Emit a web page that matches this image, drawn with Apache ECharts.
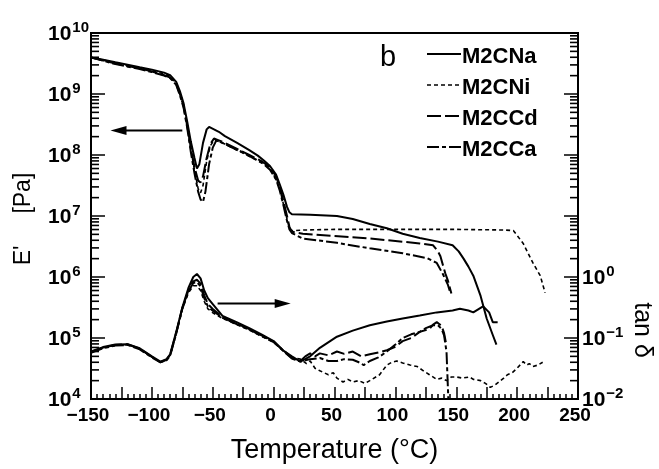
<!DOCTYPE html>
<html><head><meta charset="utf-8">
<script src="https://cdn.jsdelivr.net/npm/echarts@6/dist/echarts.min.js"></script>
<style>html,body{margin:0;padding:0;background:#fff}#c{width:659px;height:469px}</style>
</head><body><div id="c"></div>
<script>
const seriesNames = ['M2CNa', 'M2CNi', 'M2CCd', 'M2CCa'];
const minorMultipliers = [2, 3, 4, 5, 6, 7, 8, 9];
const leftDecades = [1e4, 1e5, 1e6, 1e7, 1e8, 1e9];
const rightDecades = [1e-2, 1e-1, 1e0, 1e1, 1e2, 1e3];

// E' [Pa]  : [temperature °C, modulus]
const eM2CNa = [[-150,3.98e9],[-140,3.63e9],[-130,3.31e9],[-120,3.02e9],[-110,2.75e9],[-100,2.51e9],[-90,2.24e9],[-85,2.04e9],[-80,1.58e9],[-77,1.12e9],[-74,7.08e8],[-71,3.55e8],[-68,1.66e8],[-65,8.91e7],[-63,6.03e7],[-61,7.08e7],[-58,1.58e8],[-55,2.63e8],[-53,2.88e8],[-45,2.40e8],[-40,2.04e8],[-30,1.58e8],[-20,1.20e8],[-13,9.77e7],[-8,8.13e7],[-3,6.61e7],[2,4.79e7],[5,3.31e7],[8,2.24e7],[11,1.41e7],[13,1.15e7],[15,1.07e7],[30,1.05e7],[52,1.00e7],[65,8.91e6],[79,7.41e6],[93,6.31e6],[106,5.13e6],[120,4.37e6],[135,3.80e6],[147,3.31e6],[152,2.63e6],[156,2.00e6],[160,1.48e6],[164,1.05e6],[170,4.90e5],[175,2.09e5],[180,1.12e5],[183,7.76e4]];
const eM2CNi = [[-150,3.98e9],[-120,2.95e9],[-100,2.40e9],[-90,2.14e9],[-85,1.95e9],[-80,1.51e9],[-77,1.07e9],[-74,6.76e8],[-71,3.16e8],[-68,1.26e8],[-65,5.62e7],[-62,2.82e7],[-60,2.40e7],[-58,3.16e7],[-55,7.94e7],[-52,1.41e8],[-49,1.74e8],[-45,1.66e8],[-40,1.51e8],[-30,1.20e8],[-20,9.55e7],[-10,7.59e7],[-3,6.03e7],[2,3.98e7],[5,2.82e7],[8,1.58e7],[11,8.91e6],[13,6.31e6],[15,5.75e6],[25,5.89e6],[50,6.03e6],[100,6.03e6],[150,6.03e6],[190,5.89e6],[197,5.75e6],[205,3.55e6],[213,1.70e6],[219,1.05e6],[223,5.50e5]];
const eM2CCd = [[-150,3.98e9],[-130,3.16e9],[-110,2.63e9],[-100,2.34e9],[-90,2.04e9],[-85,1.86e9],[-80,1.45e9],[-77,1.00e9],[-74,6.31e8],[-71,3.02e8],[-68,1.32e8],[-65,6.31e7],[-62,3.80e7],[-60,3.55e7],[-58,4.47e7],[-55,8.91e7],[-52,1.51e8],[-49,1.86e8],[-45,1.74e8],[-40,1.58e8],[-30,1.26e8],[-20,1.00e8],[-10,7.94e7],[-3,6.31e7],[2,4.47e7],[5,3.02e7],[8,1.78e7],[11,1.00e7],[13,6.61e6],[15,5.50e6],[24,5.13e6],[50,4.68e6],[79,4.27e6],[100,3.89e6],[120,3.55e6],[131,3.31e6],[135,2.63e6],[137,2.19e6],[139,1.58e6],[141,1.15e6],[143,8.91e5],[146,5.37e5]];
const eM2CCa = [[-150,3.98e9],[-130,3.09e9],[-110,2.57e9],[-100,2.29e9],[-90,2.00e9],[-85,1.82e9],[-80,1.41e9],[-77,9.55e8],[-74,6.03e8],[-71,2.82e8],[-68,1.12e8],[-65,5.01e7],[-62,2.51e7],[-60,1.86e7],[-58,1.70e7],[-56,2.51e7],[-53,7.08e7],[-50,1.32e8],[-47,1.74e8],[-42,1.58e8],[-35,1.35e8],[-25,1.10e8],[-15,8.51e7],[-8,7.08e7],[-3,5.75e7],[2,3.98e7],[5,2.63e7],[8,1.51e7],[11,8.32e6],[13,6.03e6],[15,5.25e6],[24,4.27e6],[52,3.63e6],[79,2.95e6],[106,2.45e6],[126,2.04e6],[134,1.70e6],[139,1.12e6],[143,7.59e5],[145,5.62e5]];

// tan delta : [temperature °C, tan delta]
const tanM2CNa = [[-150,0.060],[-140,0.071],[-130,0.078],[-120,0.079],[-110,0.068],[-100,0.050],[-93,0.041],[-88,0.045],[-85,0.054],[-80,0.126],[-75,0.316],[-70,0.66],[-66,1.00],[-63,1.12],[-60,0.95],[-57,0.60],[-54,0.45],[-50,0.36],[-42,0.23],[-30,0.18],[-20,0.145],[-10,0.115],[0,0.089],[8,0.062],[15,0.050],[22,0.041],[30,0.050],[38,0.069],[52,0.105],[65,0.132],[79,0.162],[93,0.186],[106,0.209],[120,0.234],[134,0.263],[147,0.282],[153,0.302],[160,0.282],[164,0.263],[172,0.331],[177,0.263],[180,0.182],[184,0.182]];
const tanM2CNi = [[-150,0.058],[-140,0.069],[-130,0.076],[-120,0.078],[-110,0.066],[-100,0.049],[-93,0.040],[-88,0.044],[-85,0.052],[-80,0.120],[-75,0.30],[-70,0.55],[-66,0.72],[-63,0.72],[-60,0.60],[-57,0.40],[-54,0.30],[-50,0.26],[-42,0.21],[-30,0.165],[-20,0.135],[-10,0.107],[0,0.085],[8,0.063],[15,0.048],[22,0.045],[27,0.038],[30,0.042],[34,0.032],[38,0.029],[45,0.025],[49,0.027],[52,0.022],[57,0.019],[61,0.021],[65,0.019],[70,0.020],[75,0.018],[79,0.020],[87,0.025],[93,0.036],[97,0.040],[101,0.042],[106,0.039],[112,0.036],[118,0.034],[123,0.029],[128,0.025],[134,0.021],[138,0.022],[142,0.020],[146,0.023],[150,0.023],[155,0.022],[161,0.023],[164,0.021],[170,0.020],[174,0.018],[178,0.0155],[182,0.017],[185,0.019],[189,0.022],[192,0.025],[196,0.027],[200,0.032],[205,0.041],[208,0.036],[210,0.038],[213,0.034],[217,0.036],[221,0.040]];
const tanM2CCd = [[-150,0.059],[-140,0.070],[-130,0.077],[-120,0.079],[-110,0.067],[-100,0.049],[-93,0.040],[-88,0.044],[-85,0.053],[-80,0.122],[-75,0.31],[-70,0.60],[-66,0.85],[-63,0.90],[-60,0.78],[-57,0.50],[-54,0.36],[-50,0.30],[-42,0.22],[-30,0.17],[-20,0.14],[-10,0.11],[0,0.087],[8,0.062],[15,0.047],[22,0.042],[26,0.050],[30,0.056],[34,0.050],[38,0.056],[45,0.052],[52,0.060],[58,0.055],[65,0.060],[72,0.050],[79,0.054],[86,0.058],[93,0.063],[100,0.072],[106,0.089],[113,0.100],[120,0.126],[125,0.135],[128,0.141],[131,0.166],[134,0.182],[136,0.170],[138,0.158],[140,0.120],[142,0.075]];
const tanM2CCa = [[-150,0.057],[-140,0.068],[-130,0.075],[-120,0.077],[-110,0.065],[-100,0.048],[-93,0.040],[-88,0.043],[-85,0.051],[-80,0.118],[-75,0.30],[-70,0.58],[-66,0.80],[-63,0.82],[-60,0.70],[-57,0.45],[-54,0.33],[-50,0.28],[-42,0.215],[-30,0.168],[-20,0.138],[-10,0.108],[0,0.086],[8,0.061],[15,0.046],[22,0.041],[30,0.045],[38,0.047],[45,0.042],[52,0.042],[58,0.045],[65,0.044],[70,0.040],[74,0.036],[79,0.042],[86,0.048],[93,0.060],[100,0.078],[106,0.100],[113,0.115],[120,0.126],[125,0.145],[131,0.162],[135,0.162],[138,0.140],[140,0.110],[142,0.060],[143.5,0.010]];

// annotation arrows (data coordinates, E' axis): [from, to]
const leftArrow = [[-75, 2.53e8], [-134, 2.53e8]];
const rightArrow = [[-46, 3.67e5], [14, 3.67e5]];

const dashTypes = { 'M2CNa': 'solid', 'M2CNi': [4, 3], 'M2CCd': [14, 4], 'M2CCa': [12, 3, 4, 3] };
const FONT = 'Liberation Sans';

function supLabel(v) {
  const e = Math.round(Math.log10(v));
  return '{b|10}{s|' + (e < 0 ? '\u2212' + Math.abs(e) : e) + '}';
}
const richLabel = {
  b: { fontFamily: FONT, fontSize: 21, fontWeight: 'bold', color: '#000', verticalAlign: 'bottom', lineHeight: 24 },
  s: { fontFamily: FONT, fontSize: 15, fontWeight: 'bold', color: '#000', verticalAlign: 'bottom', lineHeight: 24, padding: [0, 0, 10, 1] }
};

function lineSeries(name, data, yIdx) {
  return {
    name: name, type: 'line', data: data, yAxisIndex: yIdx,
    symbol: 'none', silent: true,
    lineStyle: { color: '#000', width: name === 'M2CNi' ? 1.6 : 2, type: dashTypes[name] },
    itemStyle: { color: '#000' }
  };
}

const chart = echarts.init(document.getElementById('c'), null, { renderer: 'canvas' });
const axisCommon = {
  axisLine: { onZero: false, lineStyle: { color: '#000', width: 2 } },
  axisTick: { inside: true, length: 14, lineStyle: { color: '#000', width: 1.5 } },
  splitLine: { show: false }
};
chart.setOption({
  animation: false,
  backgroundColor: '#fff',
  grid: { left: 91, right: 81, top: 33, bottom: 65, show: true, borderColor: '#000', borderWidth: 2 },
  xAxis: {
    type: 'value', min: -150, max: 250, interval: 25,
    axisLine: { onZero: false, lineStyle: { color: '#000', width: 2 } },
    axisTick: { inside: true, length: 12, lineStyle: { color: '#000', width: 1.5 } },
    minorTick: { show: true, splitNumber: 5, length: 5, lineStyle: { color: '#000', width: 1.5 } },
    splitLine: { show: false },
    axisLabel: {
      margin: 7, color: '#000', fontFamily: FONT, fontSize: 19, fontWeight: 'bold', padding: [0, 6, 0, 0],
      formatter: v => (v % 50 === 0 ? (v < 0 ? '\u2212' + Math.abs(v) : String(v)) : '')
    },
    name: 'Temperature (\u00b0C)', nameLocation: 'middle', nameGap: 38,
    nameTextStyle: { fontFamily: FONT, fontSize: 27, color: '#000' }
  },
  yAxis: [Object.assign({
    type: 'log', logBase: 10, min: 1e4, max: 1e10, interval: 1, splitNumber: 6,
    axisLabel: { align: 'left', margin: 43, formatter: supLabel, rich: richLabel }
  }, axisCommon), Object.assign({
    type: 'log', logBase: 10, min: 1e-2, max: 1e4, interval: 1, splitNumber: 6, position: 'right',
    axisLabel: { align: 'left', margin: 4, formatter: v => (v <= 1.0001 ? supLabel(v) : ''), rich: richLabel }
  }, axisCommon)],
  series: [
    lineSeries('M2CNa', eM2CNa, 0),
    lineSeries('M2CNi', eM2CNi, 0),
    lineSeries('M2CCd', eM2CCd, 0),
    lineSeries('M2CCa', eM2CCa, 0),
    lineSeries('M2CNa', tanM2CNa, 1),
    lineSeries('M2CNi', tanM2CNi, 1),
    lineSeries('M2CCd', tanM2CCd, 1),
    lineSeries('M2CCa', tanM2CCa, 1)
  ]
});

// ---- decorations placed through the chart's own scales ----
const g = [];
function px(yIdx, pt) { return chart.convertToPixel({ xAxisIndex: 0, yAxisIndex: yIdx }, pt); }
leftDecades.forEach(d => minorMultipliers.forEach(m => {
  const p = px(0, [-150, m * d]);
  g.push({ type: 'line', silent: true, shape: { x1: p[0], y1: p[1], x2: p[0] + 8, y2: p[1] }, style: { stroke: '#000', lineWidth: 1.6 } });
}));
rightDecades.forEach(d => minorMultipliers.forEach(m => {
  const p = px(1, [250, m * d]);
  g.push({ type: 'line', silent: true, shape: { x1: p[0] - 8, y1: p[1], x2: p[0], y2: p[1] }, style: { stroke: '#000', lineWidth: 1.6 } });
}));
function arrow(pts) {
  const a = px(0, pts[0]);
  const b = px(0, pts[1]);
  const dir = Math.sign(b[0] - a[0]);
  const headLen = 16, half = 4.5;
  g.push({ type: 'line', silent: true, shape: { x1: a[0], y1: a[1], x2: b[0] - dir * headLen * 0.6, y2: b[1] }, style: { stroke: '#000', lineWidth: 2 } });
  g.push({ type: 'polygon', silent: true, shape: { points: [[b[0], b[1]], [b[0] - dir * headLen, b[1] - half], [b[0] - dir * headLen, b[1] + half]] }, style: { fill: '#000' } });
}
arrow(leftArrow);
arrow(rightArrow);

// legend (drawn as graphic so the dash patterns are exact)
const legendTop = 57, legendStep = 31;
seriesNames.forEach((n, i) => {
  const yc = legendTop + i * legendStep;
  const dash = dashTypes[n] === 'solid' ? null : dashTypes[n];
  g.push({ type: 'line', silent: true, shape: { x1: 427, y1: yc - 3, x2: 461, y2: yc - 3 },
    style: { stroke: '#000', lineWidth: n === 'M2CNi' ? 1.6 : 2, lineDash: dash } });
  g.push({ type: 'text', silent: true, x: 462, y: yc,
    style: { text: n, fontFamily: FONT, fontSize: 22, fontWeight: 'bold', fill: '#000', align: 'left', verticalAlign: 'middle' } });
});
g.push({ type: 'text', silent: true, x: 388, y: 58, style: { text: 'b', fontFamily: FONT, fontSize: 29, fill: '#000', align: 'center', verticalAlign: 'middle' } });
g.push({ type: 'text', silent: true, x: 24, y: 219, rotation: Math.PI / 2,
  style: { text: "E'     [Pa]", fontFamily: FONT, fontSize: 23, fill: '#000', align: 'center', verticalAlign: 'middle' } });
g.push({ type: 'text', silent: true, x: 642, y: 330, rotation: -Math.PI / 2,
  style: { text: 'tan \u03b4', fontFamily: FONT, fontSize: 25, fill: '#000', align: 'center', verticalAlign: 'middle' } });
chart.setOption({ graphic: g });
</script></body></html>
